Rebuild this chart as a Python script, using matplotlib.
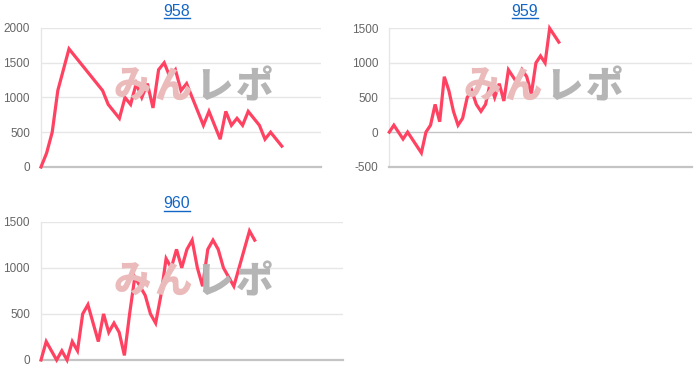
import matplotlib
matplotlib.use('Agg')
import matplotlib.pyplot as plt
from matplotlib.lines import Line2D

# ---------------- data ----------------
titles = ['958', '959', '960']

values_958 = [0, 200, 500, 1100, 1400, 1700, 1600, 1500, 1400, 1300, 1200, 1100,
              900, 800, 700, 1000, 900, 1200, 1000, 1200, 850, 1400, 1500, 1300,
              1400, 1100, 1200, 1000, 800, 600, 800, 600, 400, 800, 600, 700,
              600, 800, 700, 600, 400, 500, 400, 300]

values_959 = [0, 100, 0, -100, 0, -100, -200, -300, 0, 100, 400, 150,
              800, 600, 300, 100, 200, 500, 600, 400, 300, 400, 700, 500,
              700, 450, 900, 800, 700, 900, 800, 550, 1000, 1100, 1000, 1500,
              1400, 1300]

values_960 = [0, 200, 100, 0, 100, 0, 200, 100, 500, 600, 400, 200,
              500, 300, 400, 300, 50, 500, 900, 800, 700, 500, 400, 700,
              1100, 1000, 1200, 1000, 1200, 1300, 1000, 800, 1200, 1300, 1200, 1000,
              900, 800, 1000, 1200, 1400, 1300]

yticks_958 = [0, 500, 1000, 1500, 2000]
yticks_959 = [-500, 0, 500, 1000, 1500]
yticks_960 = [0, 500, 1000, 1500]

# ---------------- style ----------------
W, H = 700, 384
LINE_COLOR = '#ff4262'
TITLE_COLOR = '#1466c6'
TICK_COLOR = '#666666'
GRID_COLOR = '#e6e6e6'
AXIS_COLOR = '#c4c4c4'
WM_PINK = '#ebbaba'
WM_GRAY = '#b5b5b5'

plt.rcParams['font.family'] = ['Liberation Sans', 'DejaVu Sans']

fig = plt.figure(figsize=(W / 100, H / 100), dpi=100)


def px_rect(x0, y0, x1, y1):
    """pixel box (top-left origin) -> figure fraction rect"""
    return [x0 / W, 1 - y1 / H, (x1 - x0) / W, (y1 - y0) / H]


panels = [
    dict(vals=values_958, ticks=yticks_958, ylim=(0, 2000), nx=50,
         box=(41, 28, 321, 167), title_xy=(177, 11), wm=(110, 87)),
    dict(vals=values_959, ticks=yticks_959, ylim=(-500, 1500), nx=66,
         box=(389.3, 28.3, 691.7, 166.7), title_xy=(525, 11), wm=(460, 87)),
    dict(vals=values_960, ticks=yticks_960, ylim=(0, 1500), nx=58,
         box=(41, 221.7, 343.3, 360), title_xy=(177, 203.5), wm=(110, 282)),
]

title_texts = []
for p, title in zip(panels, titles):
    ax = fig.add_axes(px_rect(*p['box']))
    ax.set_xlim(0, p['nx'])
    ax.set_ylim(*p['ylim'])
    ax.set_yticks(p['ticks'])
    ax.set_yticklabels([str(t) for t in p['ticks']])
    ax.set_xticks([])
    ax.tick_params(axis='y', length=0, pad=8, labelsize=8.5, labelcolor=TICK_COLOR)
    for s in ['top', 'right']:
        ax.spines[s].set_visible(False)
    ax.spines['left'].set_color(GRID_COLOR)
    ax.spines['left'].set_linewidth(1)
    ax.spines['bottom'].set_color(AXIS_COLOR)
    ax.spines['bottom'].set_linewidth(1.6)
    ax.set_facecolor('none')
    for t in p['ticks']:
        if t == p['ylim'][0]:
            continue
        c = AXIS_COLOR if t == 0 else GRID_COLOR
        ax.axhline(t, color=c, lw=1, zorder=0.5)

    ax.plot(range(len(p['vals'])), p['vals'], color=LINE_COLOR, lw=2.3,
            solid_joinstyle='miter', clip_on=False, zorder=3)

    # watermark (logo text)
    wx, wy = p['wm']
    chars = [('み', WM_PINK), ('ん', WM_PINK), ('レ', WM_GRAY), ('ポ', WM_GRAY)]
    for k, (ch, col) in enumerate(chars):
        cx = wx + 22 + 41 * k
        fig.text(cx / W, 1 - wy / H, ch, color=col, fontsize=27, fontweight='heavy',
                 family=['Noto Sans CJK JP'], ha='center', va='center', zorder=1)

    tx, ty = p['title_xy']
    tt = fig.text(tx / W, 1 - ty / H, title, color=TITLE_COLOR, fontsize=11.5,
                  ha='center', va='center')
    title_texts.append(tt)

# underline the titles (they are links in the original)
fig.canvas.draw()
renderer = fig.canvas.get_renderer()
for tt in title_texts:
    bb = tt.get_window_extent(renderer)
    y = bb.y0 + 0.5
    fig.add_artist(Line2D([bb.x0 / W, bb.x1 / W], [y / H, y / H],
                          transform=fig.transFigure, color=TITLE_COLOR, lw=1))

fig.savefig('out.png', dpi=100)
